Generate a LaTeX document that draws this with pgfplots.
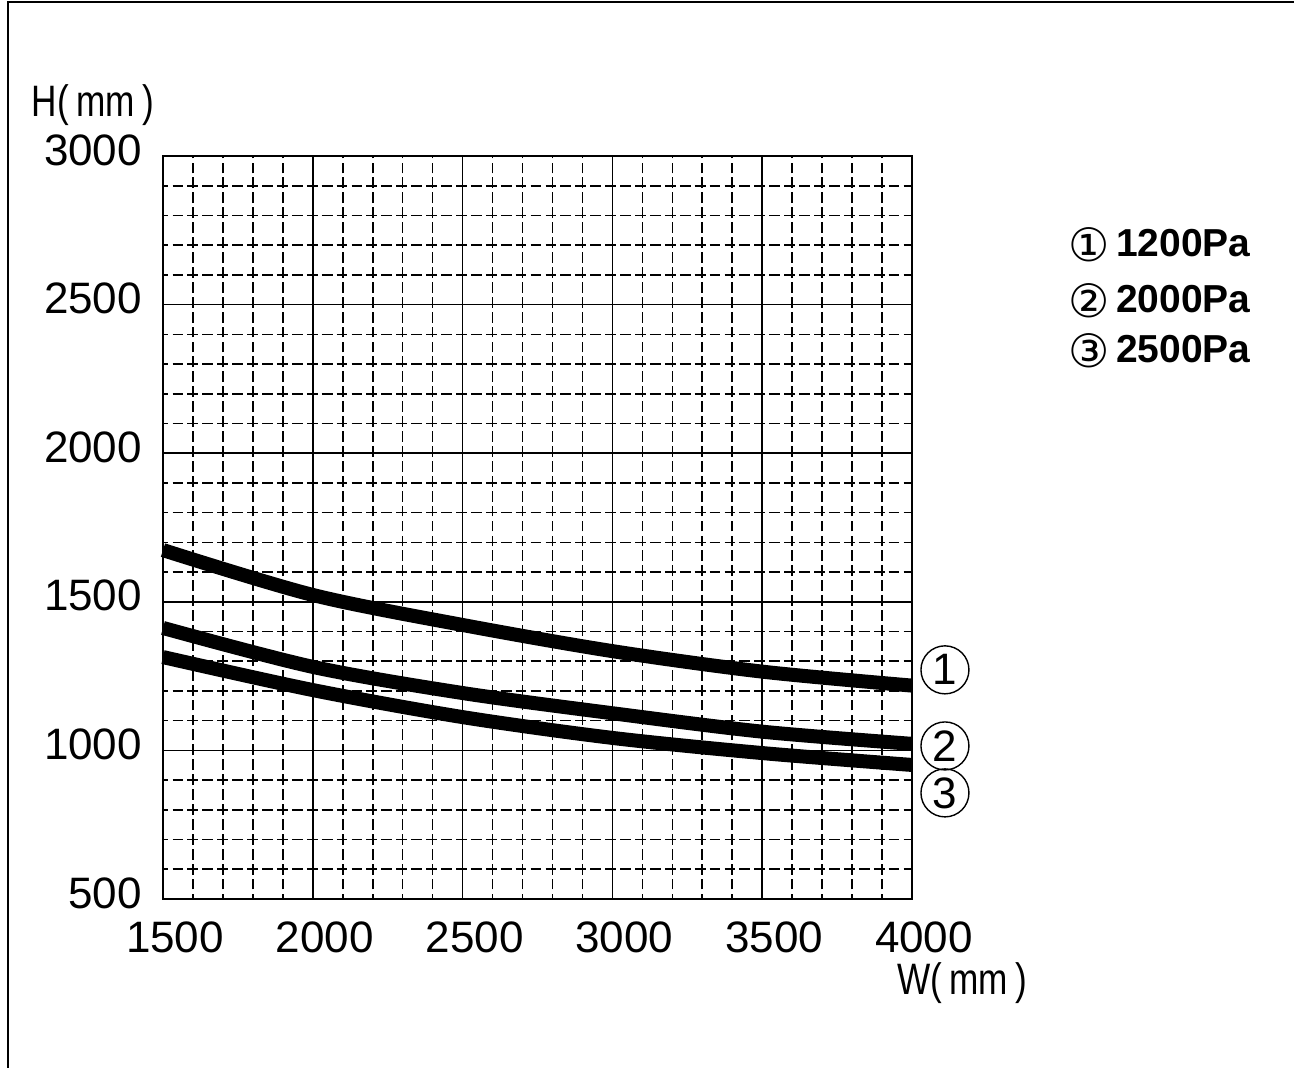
\documentclass[border=0pt]{standalone}
\usepackage{fontspec}
\setmainfont{Liberation Sans}
\newfontfamily\cadfont{Liberation Sans}
\newfontfamily\cadnarrow{Liberation Sans}[FakeStretch=0.8]
\newfontfamily\symfont{DejaVu Sans}
\usepackage{pgfplots}
\pgfplotsset{compat=1.18}

\newcommand{\legline}[2]{\raisebox{-2.5pt}{\symfont\mdseries\fontsize{23}{24}\selectfont #1}\,#2}

\begin{document}
\begin{tikzpicture}
\useasboundingbox (0,0) rectangle (647pt,534pt);
\draw[line width=0.8pt] (4pt,0) -- (4pt,533pt) -- (647pt,533pt);
\begin{axis}[
  at={(81.5pt,84.5pt)}, anchor=south west,
  scale only axis, width=374.5pt, height=371.5pt,
  xmin=1500, xmax=4000, ymin=500, ymax=3000,
  xtick={1500,2000,...,4000}, ytick={500,1000,...,3000},
  minor x tick num=4, minor y tick num=4,
  major tick length=0pt, minor tick length=0pt,
  grid=both,
  major grid style={black, line width=0.8pt},
  minor grid style={black, line width=0.8pt, dash pattern=on 5.4pt off 2.06pt, dash phase=2.7pt},
  axis line style={line width=0.9pt},
  /pgf/number format/assume math mode=true,
  /pgf/number format/1000 sep={},
  xticklabel style={font=\cadfont\fontsize{22}{24}\selectfont, anchor=north, yshift=-8pt, xshift=6pt},
  yticklabel style={font=\cadfont\fontsize{22}{24}\selectfont, anchor=east, yshift=3pt, xshift=-7pt},
  clip=false,
]
\addplot[black, line width=7pt, smooth] coordinates {
  (1500,1674)(2000,1523)(2500,1422)(3000,1334)(3500,1265)(4000,1218)};
\addplot[black, line width=7pt, smooth] coordinates {
  (1500,1412)(2000,1281)(2500,1193)(3000,1125)(3500,1063)(4000,1022)};
\addplot[black, line width=7pt, smooth] coordinates {
  (1500,1314)(2000,1203)(2500,1112)(3000,1042)(3500,991)(4000,951)};
\node[circle, draw, line width=0.7pt, minimum size=24pt, inner sep=0pt, font=\cadfont\fontsize{22}{24}\selectfont] at (axis cs:4110,1271) {1};
\node[circle, draw, line width=0.7pt, minimum size=24pt, inner sep=0pt, font=\cadfont\fontsize{22}{24}\selectfont] at (axis cs:4110,1015) {2};
\node[circle, draw, line width=0.7pt, minimum size=24pt, inner sep=0pt, font=\cadfont\fontsize{22}{24}\selectfont] at (axis cs:4110,857) {3};
\end{axis}
\node[font=\cadnarrow\fontsize{22}{24}\selectfont] at (46.5pt,481.5pt) {H(\,mm\,)};
\node[font=\cadnarrow\fontsize{22}{24}\selectfont] at (481pt,42.5pt) {W(\,mm\,)};
\node[anchor=west, inner sep=0pt, font=\bfseries\fontsize{19.5}{20}\selectfont] at (534pt,411.5pt) {\legline{①}{1200Pa}};
\node[anchor=west, inner sep=0pt, font=\bfseries\fontsize{19.5}{20}\selectfont] at (534pt,383.5pt) {\legline{②}{2000Pa}};
\node[anchor=west, inner sep=0pt, font=\bfseries\fontsize{19.5}{20}\selectfont] at (534pt,358.5pt) {\legline{③}{2500Pa}};
\end{tikzpicture}
\end{document}
